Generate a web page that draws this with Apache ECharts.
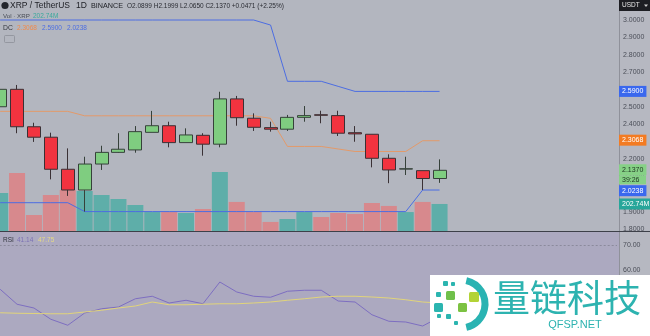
<!DOCTYPE html>
<html><head><meta charset="utf-8">
<script src="https://cdn.jsdelivr.net/npm/echarts/dist/echarts.min.js"></script>
<style>html,body{margin:0;padding:0;background:#b3b6bf}#c{width:650px;height:336px}</style>
</head><body><div id="c"></div>
<script>
const categories = ['2025-03-06','2025-03-07','2025-03-08','2025-03-09','2025-03-10','2025-03-11','2025-03-12','2025-03-13','2025-03-14','2025-03-15','2025-03-16','2025-03-17','2025-03-18','2025-03-19','2025-03-20','2025-03-21','2025-03-22','2025-03-23','2025-03-24','2025-03-25','2025-03-26','2025-03-27','2025-03-28','2025-03-29','2025-03-30','2025-03-31','2025-04-01','2025-04-02','2025-04-03','2025-04-04','2025-04-05','2025-04-06','2025-04-07','2025-04-08','2025-04-09','2025-04-10','2025-04-11'];
const opens  = [2.502,2.602,2.387,2.327,2.143,2.024,2.173,2.240,2.254,2.355,2.393,2.296,2.338,2.287,2.547,2.436,2.382,2.373,2.441,2.456,2.451,2.353,2.344,2.206,2.144,2.135,2.0899];
const closes = [2.602,2.387,2.327,2.143,2.024,2.173,2.240,2.258,2.359,2.393,2.296,2.340,2.287,2.547,2.439,2.384,2.373,2.441,2.451,2.453,2.350,2.346,2.206,2.139,2.146,2.0899,2.1370];
const lows   = [2.490,2.350,2.300,2.085,1.990,1.900,2.139,2.238,2.238,2.355,2.269,2.296,2.221,2.269,2.393,2.363,2.359,2.363,2.416,2.407,2.334,2.301,2.154,2.063,2.110,2.0238,2.0650];
const highs  = [2.646,2.627,2.410,2.353,2.263,2.215,2.278,2.350,2.391,2.478,2.416,2.378,2.350,2.588,2.564,2.464,2.416,2.455,2.506,2.479,2.479,2.391,2.344,2.229,2.215,2.135,2.1999];
const volumesM = [285,435,120,270,308,300,270,240,195,142,142,135,165,443,218,142,68,90,142,105,135,128,210,188,142,218,202.74];
const dcUpper  = [3.0,3.0,3.0,3.0,3.0,3.0,3.0,3.0,3.0,3.0,3.0,3.0,3.0,3.0,3.0,3.0,2.971,2.648,2.648,2.648,2.619,2.590,2.590,2.590,2.590,2.590,2.590];
const dcMiddle = [2.4755,2.4755,2.4755,2.4755,2.4755,2.450,2.450,2.450,2.450,2.450,2.450,2.450,2.450,2.450,2.450,2.450,2.4355,2.274,2.274,2.274,2.2595,2.245,2.245,2.245,2.245,2.3068,2.3068];
const dcLower  = [1.951,1.951,1.951,1.951,1.951,1.900,1.900,1.900,1.900,1.900,1.900,1.900,1.900,1.900,1.900,1.900,1.900,1.900,1.900,1.900,1.900,1.900,1.900,1.900,1.900,2.0238,2.0238];
const rsi   = [52.3,46.3,44.8,40.3,37.9,42.8,44.5,45.2,48.5,49.5,46.8,47.9,46.5,55.2,51.2,49.5,49.1,51.5,51.9,51.9,47.6,47.2,42.1,39.5,39.2,37.6,41.14];
const rsiMa = [42.9,42.7,42.6,42.5,42.5,43.2,43.9,44.8,45.6,47.2,46.1,46.1,46.3,46.5,46.5,46.8,47.2,47.9,48.5,49.2,49.5,49.5,49.2,48.8,48.1,47.2,46.8];
const priceAxis = {min: 1.8, max: 3.0, step: 0.1, decimals: 4};
const rsiAxis = {min: 30, max: 80, step: 10, decimals: 2};

const FF = '"Liberation Sans", Arial, sans-serif';
const UP = '#7fcd80', DOWN = '#f2333f';
const VUP = '#5eaea9', VDOWN = '#d7898d';
const BLUE = '#4c6de2', ORANGE = '#e39a6a';

const chart = echarts.init(document.getElementById('c'), null, {renderer: 'canvas'});
const candleData = opens.map((o, i) => [o, closes[i], lows[i], highs[i]]);
const volData = volumesM.map((v, i) => ({value: v, itemStyle: {color: closes[i] >= opens[i] ? VUP : VDOWN}}));

function tag(value, text, bg, fg) {
  return {
    symbol: ['none', 'none'], silent: true, animation: false,
    lineStyle: {color: 'rgba(0,0,0,0)', width: 0},
    label: {show: true, position: 'end', distance: 2, formatter: text, backgroundColor: bg, color: fg, opacity: 1,
      fontSize: 7, fontFamily: FF, padding: [2, 3, 1, 3], lineHeight: 8},
    data: [{yAxis: value}]
  };
}
const gridBase = {left: -8.3, width: 625.3, outerBoundsMode: 'none', containLabel: false};
const lastClose = closes[closes.length - 1];

function t(x, y, text, size, color, extra) {
  return Object.assign({type: 'text', x: x, y: y, z: 60, silent: true,
    style: Object.assign({text: text, fontSize: size, fill: color, fontFamily: FF, verticalAlign: 'middle'}, extra && extra.style || {})},
    extra && extra.el || {});
}

const graphics = [
  {type: 'rect', z: -10, silent: true, shape: {x: 0, y: 232, width: 619, height: 104}, style: {fill: '#aca9c0'}},
  {type: 'rect', z: -10, silent: true, shape: {x: 619, y: 0, width: 31, height: 336}, style: {fill: '#b6b8c1'}},
  {type: 'line', z: -5, silent: true, shape: {x1: 619.5, y1: 0, x2: 619.5, y2: 336}, style: {stroke: '#8f919a', lineWidth: 1}},
  {type: 'line', z: 10, silent: true, shape: {x1: 0, y1: 231.5, x2: 650, y2: 231.5}, style: {stroke: '#3d4049', lineWidth: 1.2}},
  {type: 'rect', z: 60, silent: true, shape: {x: 619, y: 0, width: 31, height: 11}, style: {fill: '#1d1e23'}},
  t(622, 5.5, 'USDT', 6.5, '#e8e8e8'),
  {type: 'polygon', z: 61, silent: true, shape: {points: [[644, 4.5], [648, 4.5], [646, 7]]}, style: {fill: '#cfcfcf'}},
  // header
  {type: 'circle', z: 60, silent: true, shape: {cx: 5, cy: 5.5, r: 3.6}, style: {fill: '#23262d'}},
  t(10, 6, 'XRP / TetherUS', 8.5, '#202228'),
  t(76, 6, '1D', 8.5, '#202228'),
  t(91, 6, 'BINANCE', 7.2, '#202228'),
  t(127, 6, 'O2.0899 H2.1999 L2.0650 C2.1370 +0.0471 (+2.25%)', 6.5, '#2a2c33'),
  t(3, 16, 'Vol · XRP', 6.2, '#484c56'),
  t(33, 16, '202.74M', 6.5, '#3ba99d'),
  t(3, 28, 'DC', 6.8, '#33363e'),
  t(17, 28, '2.3068', 6.5, '#f08a4b'),
  t(42, 28, '2.5900', 6.5, BLUE),
  t(67, 28, '2.0238', 6.5, BLUE),
  {type: 'rect', z: 60, silent: true, shape: {x: 4.5, y: 35.5, width: 10, height: 7, r: 1}, style: {fill: 'none', stroke: '#8c8f98', lineWidth: 0.8}},
  t(3, 240, 'RSI', 6.5, '#33363e'),
  t(17, 240, '41.14', 6.5, '#7c72b4'),
  t(38, 240, '47.75', 6.5, '#e6da84'),
  // watermark
  {type: 'rect', z: 100, silent: true, shape: {x: 430, y: 275, width: 220, height: 61}, style: {fill: '#ffffff'}},
  {type: 'arc', z: 101, silent: true, shape: {cx: 461, cy: 304, r: 24, startAngle: -1.35, endAngle: 1.35, clockwise: true}, style: {stroke: '#29b3b2', lineWidth: 7, fill: null}},
  {type: 'rect', z: 101, silent: true, shape: {x: 443, y: 281, width: 5, height: 5, r: 1}, style: {fill: '#2bb5b0'}},
  {type: 'rect', z: 101, silent: true, shape: {x: 451, y: 282, width: 4, height: 4, r: 1}, style: {fill: '#2bb5b0'}},
  {type: 'rect', z: 101, silent: true, shape: {x: 436, y: 292, width: 5, height: 5, r: 1}, style: {fill: '#2bb5b0'}},
  {type: 'rect', z: 101, silent: true, shape: {x: 446, y: 291, width: 9, height: 9, r: 1.5}, style: {fill: '#6fc04a'}},
  {type: 'rect', z: 101, silent: true, shape: {x: 469, y: 292, width: 10, height: 10, r: 1.5}, style: {fill: '#b3d336'}},
  {type: 'rect', z: 101, silent: true, shape: {x: 434, y: 303, width: 9, height: 9, r: 1.5}, style: {fill: '#2bb5b0'}},
  {type: 'rect', z: 101, silent: true, shape: {x: 458, y: 303, width: 9, height: 9, r: 1.5}, style: {fill: '#7cc242'}},
  {type: 'rect', z: 101, silent: true, shape: {x: 446, y: 314, width: 5, height: 5, r: 1}, style: {fill: '#2bb5b0'}},
  {type: 'rect', z: 101, silent: true, shape: {x: 437, y: 314, width: 4, height: 4, r: 1}, style: {fill: '#2bb5b0'}},
  {type: 'rect', z: 101, silent: true, shape: {x: 454, y: 321, width: 4, height: 4, r: 1}, style: {fill: '#2bb5b0'}},
  t(493, 298, '量链科技', 37, '#2db3b0', {el: {z: 101}, style: {fontFamily: '"Noto Sans CJK SC", sans-serif'}}),
  t(575, 325, 'QFSP.NET', 11, '#2db3b0', {el: {z: 101}, style: {align: 'center'}})
];

const option = {
  animation: false,
  backgroundColor: '#b3b6bf',
  grid: [
    Object.assign({top: 20, height: 209}, gridBase),
    Object.assign({top: 151, height: 80}, gridBase),
    Object.assign({top: 220, height: 125}, gridBase)
  ],
  xAxis: [0, 1, 2].map(g => ({type: 'category', gridIndex: g, data: categories, show: false, boundaryGap: true})),
  yAxis: [
    {gridIndex: 0, position: 'right', min: priceAxis.min, max: priceAxis.max, interval: priceAxis.step, scale: true,
      axisLine: {show: false}, axisTick: {show: false}, splitLine: {show: false},
      axisLabel: {margin: 6, fontSize: 7, color: '#4b4e58', fontFamily: FF, formatter: v => v.toFixed(priceAxis.decimals)}},
    {gridIndex: 1, min: 0, max: 600, show: false},
    {gridIndex: 2, position: 'right', min: rsiAxis.min, max: rsiAxis.max, interval: rsiAxis.step,
      axisLine: {show: false}, axisTick: {show: false}, splitLine: {show: false},
      axisLabel: {margin: 6, fontSize: 7, color: '#4b4e58', fontFamily: FF, showMaxLabel: false, showMinLabel: false,
        formatter: v => v.toFixed(rsiAxis.decimals)}}
  ],
  series: [
    {type: 'bar', name: 'Vol', xAxisIndex: 1, yAxisIndex: 1, data: volData, barWidth: 16, z: 1, clip: false,
      markLine: tag(202.74, '202.74M', '#26a69a', '#ffffff')},
    {type: 'line', name: 'DC upper', xAxisIndex: 0, yAxisIndex: 0, data: dcUpper, symbol: 'none', clip: false, z: 3,
      lineStyle: {color: BLUE, width: 1}, markLine: tag(dcUpper[dcUpper.length - 1], '2.5900', '#3a68ee', '#ffffff')},
    {type: 'line', name: 'DC middle', xAxisIndex: 0, yAxisIndex: 0, data: dcMiddle, symbol: 'none', clip: false, z: 3,
      lineStyle: {color: ORANGE, width: 1}, markLine: tag(dcMiddle[dcMiddle.length - 1], '2.3068', '#f37b22', '#ffffff')},
    {type: 'line', name: 'DC lower', xAxisIndex: 0, yAxisIndex: 0, data: dcLower, symbol: 'none', clip: false, z: 3,
      lineStyle: {color: BLUE, width: 1}, markLine: tag(dcLower[dcLower.length - 1], '2.0238', '#3a68ee', '#ffffff')},
    {type: 'candlestick', name: 'XRP', xAxisIndex: 0, yAxisIndex: 0, data: candleData, barWidth: 13.5, z: 4, clip: false,
      itemStyle: {color: UP, color0: DOWN, borderColor: '#36413a', borderColor0: '#3a3135', borderWidth: 1},
      markLine: tag(lastClose, lastClose.toFixed(4), '#86d186', '#1f3522')},
    {type: 'line', name: 'RSI', xAxisIndex: 2, yAxisIndex: 2, data: rsi, symbol: 'none', z: 3,
      lineStyle: {color: '#7d6ec0', width: 1},
      markLine: {symbol: ['none', 'none'], silent: true, animation: false, label: {show: false},
        lineStyle: {color: '#8b8a9c', width: 1, type: [2, 2]}, data: [{yAxis: 70}]}},
    {type: 'line', name: 'RSI MA', xAxisIndex: 2, yAxisIndex: 2, data: rsiMa, symbol: 'none', z: 3,
      lineStyle: {color: '#e1d47a', width: 1}}
  ],
  graphic: {elements: graphics}
};
chart.setOption(option);

// countdown box under the last-price tag, placed from the price scale
const yClose = chart.convertToPixel({yAxisIndex: 0}, lastClose);
chart.setOption({graphic: {elements: graphics.concat([
  {type: 'rect', z: 5, silent: true, shape: {x: 619, y: yClose + 5, width: 27, height: 9}, style: {fill: '#86d186'}},
  t(622, yClose + 9.5, '39:26', 7, '#1f3522', {el: {z: 6}})
])}});
</script></body></html>
